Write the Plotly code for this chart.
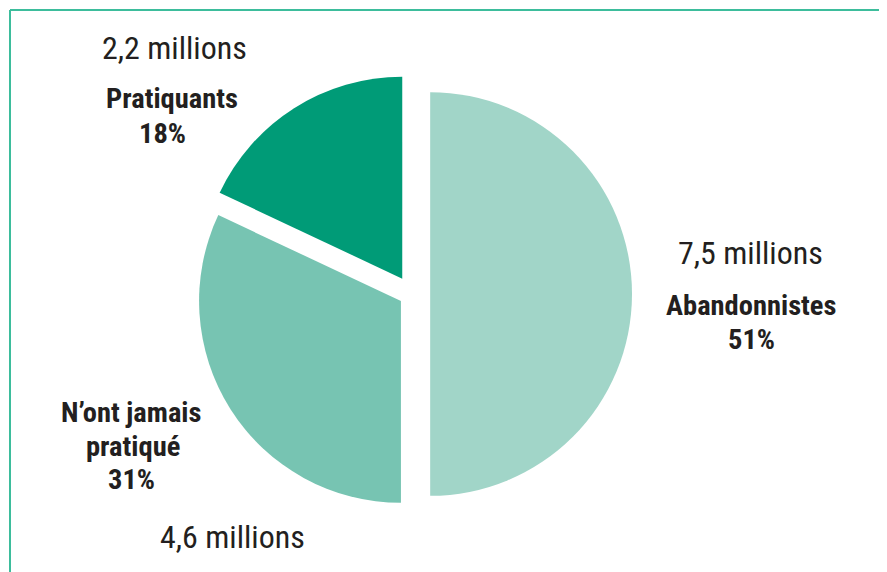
import plotly.graph_objects as go

categories = ["Abandonnistes", "N’ont jamais pratiqué", "Pratiquants"]
slice_values = [50, 32, 18]          # slice sizes as drawn in the picture
pct_labels = ["51%", "31%", "18%"]   # printed percentages
millions = ["7,5 millions", "4,6 millions", "2,2 millions"]
colors = ["#a1d5c8", "#77c4b2", "#009b77"]

W, H = 887, 572
O = 8  # page body margin offset
FONT = "Liberation Sans Narrow, Roboto Condensed, Arial Narrow, Liberation Sans, sans-serif"
TXT = "#231f20"

def fy(y):
    return 1 - (y - O) / H

def fx(x):
    return (x - O) / W

cx, cy, box = 412, 294, 440
fig = go.Figure(go.Pie(
    labels=categories, values=slice_values, sort=False, direction="clockwise", rotation=0,
    marker=dict(colors=colors, line=dict(width=0)), pull=[0.09, 0.065, 0.09],
    textinfo="none", hoverinfo="label", showlegend=False,
    domain=dict(x=[0.0, 2 * fx(cx)], y=[fy(cy + box / 2), fy(cy - box / 2)]),
))

anns = []
def add(text, x, y, size, bold):
    anns.append(dict(text=f"<b>{text}</b>" if bold else text, x=fx(x), y=fy(y),
                     xref="paper", yref="paper", showarrow=False,
                     xanchor="center", yanchor="middle",
                     font=dict(family=FONT, size=size, color=TXT)))

MS, BS = 32, 28.5
# Abandonnistes
add(millions[0], 750, 253, MS, False)
add(categories[0], 751, 305, BS, True)
add(pct_labels[0], 751, 339, BS, True)
# N'ont jamais pratiqué
words = categories[1].split(" ")
add(" ".join(words[:2]), 131, 412, BS, True)
add(words[2], 133, 446, BS, True)
add(pct_labels[1], 131, 479, BS, True)
add(millions[1], 232, 537, MS, False)
# Pratiquants
add(millions[2], 174, 48, MS, False)
add(categories[2], 172, 99, BS, True)
add(pct_labels[2], 162, 133, BS, True)

bc = "#3dbd9c"
fig.update_layout(
    width=W, height=H, margin=dict(l=0, r=0, t=0, b=0),
    paper_bgcolor="white", plot_bgcolor="white",
    annotations=anns,
    shapes=[
        dict(type="line", xref="paper", yref="paper", x0=fx(10), y0=fy(10), x1=1.02, y1=fy(10),
             line=dict(color=bc, width=2)),
        dict(type="line", xref="paper", yref="paper", x0=fx(10), y0=fy(10), x1=fx(10), y1=-0.02,
             line=dict(color=bc, width=2)),
    ],
)
fig.write_html("out.html")
